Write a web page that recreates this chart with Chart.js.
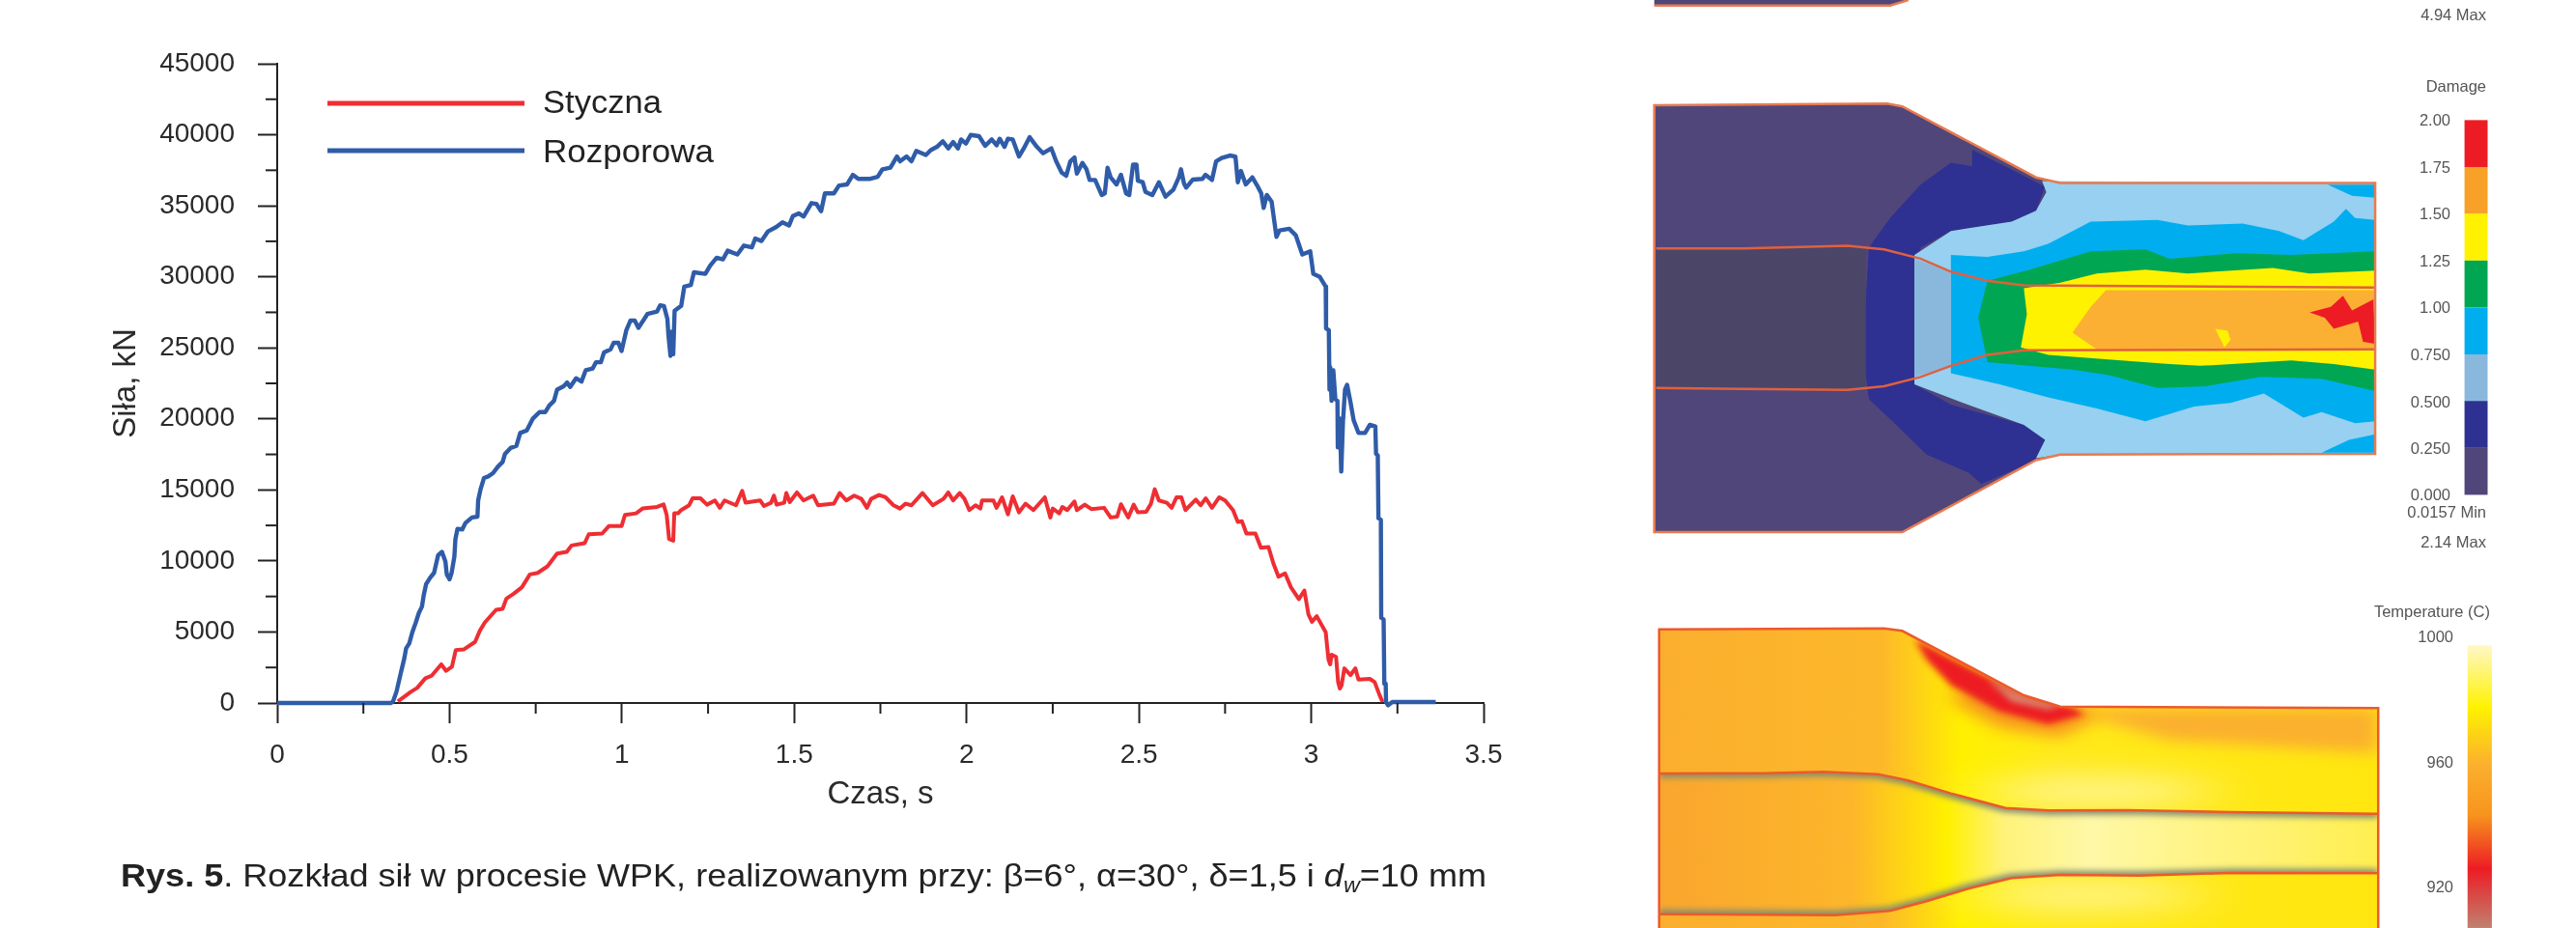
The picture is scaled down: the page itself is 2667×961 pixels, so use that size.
<!DOCTYPE html>
<html lang="pl">
<head>
<meta charset="utf-8">
<title>Rozkład sił w procesie WPK</title>
<script src="https://cdn.jsdelivr.net/npm/chart.js@4"></script>
<style>
  html, body { margin: 0; padding: 0; background: #fff; overflow: hidden; }
  #page { position: relative; width: 2667px; height: 961px; }
  #forceChart { position: absolute; left: 0; top: 0; }
  #overlay { position: absolute; left: 0; top: 0; }
  #overlay text { font-family: "Liberation Sans", Arial, sans-serif; }
  .bar-label { font-size: 16.5px; fill: #555; text-anchor: end; }
  .contour { vector-effect: non-scaling-stroke; }
</style>
</head>
<body>
<div id="page">
  <canvas id="forceChart" width="1600" height="847"></canvas>

  <svg id="overlay" width="2667" height="961" viewBox="0 0 2667 961">
    <defs>
      <filter id="blur6" x="-30%" y="-30%" width="160%" height="160%"><feGaussianBlur stdDeviation="6 10"/></filter>
      <filter id="blur14" x="-40%" y="-40%" width="180%" height="180%"><feGaussianBlur stdDeviation="16 22"/></filter>
      <filter id="blur30" x="-80%" y="-120%" width="260%" height="340%"><feGaussianBlur stdDeviation="55 45"/></filter>
      <linearGradient id="tempBase" gradientUnits="userSpaceOnUse" x1="60" y1="0" x2="1243" y2="0">
        <stop offset="0" stop-color="#fbae2e"/>
        <stop offset="0.31" stop-color="#fdb82a"/>
        <stop offset="0.42" stop-color="#fff000"/>
        <stop offset="0.55" stop-color="#ffe91a"/>
        <stop offset="1" stop-color="#ffe60f"/>
      </linearGradient>
      <linearGradient id="tempTube" gradientUnits="userSpaceOnUse" x1="60" y1="0" x2="1243" y2="0">
        <stop offset="0" stop-color="#f9a62e"/>
        <stop offset="0.27" stop-color="#fdb62a"/>
        <stop offset="0.40" stop-color="#fff000"/>
        <stop offset="0.48" stop-color="#fff27a"/>
        <stop offset="0.60" stop-color="#fff8a6"/>
        <stop offset="1" stop-color="#ffee50"/>
      </linearGradient>
      <linearGradient id="tempBar" x1="0" y1="0" x2="0" y2="1">
        <stop offset="0" stop-color="#fff7c8"/>
        <stop offset="0.22" stop-color="#fff200"/>
        <stop offset="0.42" stop-color="#fbb02e"/>
        <stop offset="0.60" stop-color="#f7941d"/>
        <stop offset="0.79" stop-color="#ed1c24"/>
        <stop offset="1" stop-color="#c08070"/>
      </linearGradient>
      <clipPath id="tempClip">
        <polygon points="60,185 430,182 460,190 660,390 720,425 1243,430 1243,1113 60,1113"/>
      </clipPath>
      <clipPath id="tubeClip">
        <polygon points="60,633 230,632 330,628 420,635 470,655 540,695 630,740 700,748 830,747 1000,753 1243,758 1243,943 1000,942 850,950 720,948 640,958 570,990 500,1030 440,1060 350,1073 60,1070"/>
      </clipPath>
    </defs>

    <!-- legenda -->
    <line x1="339" y1="107" x2="543" y2="107" stroke="#ee2e33" stroke-width="5"/>
    <line x1="339" y1="156" x2="543" y2="156" stroke="#2f5ca8" stroke-width="5"/>
    <text x="562" y="117" font-size="34" fill="#222" textLength="123" lengthAdjust="spacingAndGlyphs">Styczna</text>
    <text x="562" y="168" font-size="34" fill="#222" textLength="177" lengthAdjust="spacingAndGlyphs">Rozporowa</text>

    <!-- podpis -->
    <text x="125" y="918" font-size="34" fill="#222" textLength="1414" lengthAdjust="spacingAndGlyphs"><tspan font-weight="bold">Rys. 5</tspan>. Rozkład sił w procesie WPK, realizowanym przy: β=6°, α=30°, δ=1,5 i <tspan font-style="italic">d</tspan><tspan font-style="italic" font-size="22" dy="6">w</tspan><tspan dy="-6">=10 mm</tspan></text>

    <!-- panel damage -->
    <g transform="translate(1680,0) scale(0.6293,0.3827)">
      <polygon points="52,0 470,0 440,15 52,15" fill="#50467a"/>
      <polyline points="52,15 440,15 470,0" fill="none" stroke="#e87a50" stroke-width="2.5" class="contour"/>
      <polygon points="52,285 435,280 460,288 680,480 720,495 1238,495 1238,1228 720,1230 680,1245 460,1440 52,1440" fill="#50467a"/>
      <polygon points="575,405 695,505 680,570 640,600 540,625 490,670 480,1040 540,1095 660,1150 695,1190 680,1245 590,1310 570,1280 500,1230 450,1150 405,1080 395,950 405,670 440,590 490,500 540,440 575,450" fill="#2e3191"/>
      <polygon points="690,490 1238,495 1238,1228 720,1230 680,1240 695,1190 660,1150 560,1090 480,1040 480,690 540,625 640,600 680,570 697,520" fill="#97d0f0"/>
      <polygon points="540,690 600,695 660,680 700,660 770,600 880,595 930,610 1020,605 1080,625 1120,650 1170,600 1190,565 1205,590 1238,595 1238,1140 1205,1145 1150,1115 1120,1130 1055,1065 1000,1090 940,1100 860,1140 780,1105 700,1075 620,1040 540,1010" fill="#00aeef"/>
      <polygon points="1160,500 1238,500 1238,535 1200,530" fill="#00aeef"/>
      <polygon points="1150,1225 1195,1190 1238,1175 1238,1225" fill="#00aeef"/>
      <polygon points="480,700 540,735 540,990 480,1020" fill="#8ab8dd"/>
      <polygon points="600,760 670,730 770,680 860,675 900,700 1010,685 1100,690 1238,680 1238,1058 1150,1025 1050,1020 960,1045 880,1050 800,1015 740,1000 600,980 585,860" fill="#00a651"/>
      <polygon points="660,780 720,765 780,740 860,730 930,740 1070,725 1130,740 1238,732 1238,1000 1170,985 1100,975 950,990 900,985 820,975 700,960 655,940 665,850" fill="#fff200"/>
      <polygon points="795,785 1238,785 1238,945 780,945 740,900 770,830" fill="#fbb034"/>
      <polygon points="975,890 995,895 1000,920 990,940" fill="#fff200"/>
      <polygon points="1130,845 1165,830 1185,800 1200,840 1235,810 1238,930 1218,925 1210,870 1170,890 1155,860" fill="#ed1c24"/>
      <polygon points="55,672 200,672 370,665 400,668 400,1052 370,1055 55,1050" fill="#4b4668"/>
      <polyline points="55,672 200,672 370,665 430,675 490,700 540,735 600,760 660,772 1238,778" fill="none" stroke="#e0603f" stroke-width="2.5" class="contour"/>
      <polyline points="55,1050 370,1055 430,1045 490,1020 540,990 600,960 660,948 1238,945" fill="none" stroke="#e0603f" stroke-width="2.5" class="contour"/>
      <polygon points="52,285 435,280 460,288 680,480 720,495 1238,495 1238,1228 720,1230 680,1245 460,1440 52,1440" fill="none" stroke="#e87a50" stroke-width="2.5" class="contour"/>
      <rect x="1385" y="325" width="38" height="127" fill="#ed1c24"/>
      <rect x="1385" y="452" width="38" height="127" fill="#f7a128"/>
      <rect x="1385" y="578" width="38" height="127" fill="#fff200"/>
      <rect x="1385" y="705" width="38" height="127" fill="#00a651"/>
      <rect x="1385" y="832" width="38" height="127" fill="#00aeef"/>
      <rect x="1385" y="959" width="38" height="127" fill="#8ab8dd"/>
      <rect x="1385" y="1085" width="38" height="127" fill="#2e3191"/>
      <rect x="1385" y="1212" width="38" height="127" fill="#50467a"/>
    </g>
    <text class="bar-label" x="2574" y="21">4.94 Max</text>
    <text class="bar-label" x="2574" y="95">Damage</text>
    <text class="bar-label" x="2537" y="130">2.00</text>
    <text class="bar-label" x="2537" y="179">1.75</text>
    <text class="bar-label" x="2537" y="227">1.50</text>
    <text class="bar-label" x="2537" y="276">1.25</text>
    <text class="bar-label" x="2537" y="324">1.00</text>
    <text class="bar-label" x="2537" y="373">0.750</text>
    <text class="bar-label" x="2537" y="422">0.500</text>
    <text class="bar-label" x="2537" y="470">0.250</text>
    <text class="bar-label" x="2537" y="518">0.000</text>
    <text class="bar-label" x="2574" y="536">0.0157  Min</text>
    <text class="bar-label" x="2574" y="567">2.14  Max</text>

    <!-- panel temperatura -->
    <g transform="translate(1680,590) scale(0.6293,0.3333)">
      <g clip-path="url(#tempClip)">
        <rect x="60" y="180" width="1183" height="940" fill="url(#tempBase)"/>
        <polygon points="720,430 1243,430 1243,570 900,530" fill="#fbb02e" filter="url(#blur14)"/>
        <ellipse cx="780" cy="690" rx="190" ry="50" fill="#fff8a6" opacity="0.85" filter="url(#blur30)"/>
        <ellipse cx="760" cy="1010" rx="190" ry="45" fill="#fff8a6" opacity="0.85" filter="url(#blur30)"/>
        <polygon points="540,360 660,400 760,430 780,460 720,520 620,490 550,420" fill="#f7941d" filter="url(#blur14)"/>
        <polygon points="480,215 660,390 740,430 760,450 700,480 620,440 540,360 500,280" fill="#ed1c24" filter="url(#blur6)"/>
        <polygon points="600,340 660,390 720,425 700,435 640,410" fill="#d9826a" filter="url(#blur6)"/>
      </g>
      <polygon points="60,633 230,632 330,628 420,635 470,655 540,695 630,740 700,748 830,747 1000,753 1243,758 1243,943 1000,942 850,950 720,948 640,958 570,990 500,1030 440,1060 350,1073 60,1070" fill="url(#tempTube)"/>
      <g clip-path="url(#tubeClip)">
        <polyline points="60,633 230,632 330,628 420,635 470,655 540,695 630,740 700,748 830,747 1000,753 1243,758" fill="none" stroke="#7f8a70" stroke-width="26" filter="url(#blur6)"/>
        <polyline points="60,1070 350,1073 440,1060 500,1030 570,990 640,958 720,948 850,950 1000,942 1243,943" fill="none" stroke="#7f8a70" stroke-width="26" filter="url(#blur6)"/>
      </g>
      <polyline points="60,633 230,632 330,628 420,635 470,655 540,695 630,740 700,748 830,747 1000,753 1243,758" fill="none" stroke="#ec5a2b" stroke-width="2.5" class="contour"/>
      <polyline points="60,1070 350,1073 440,1060 500,1030 570,990 640,958 720,948 850,950 1000,942 1243,943" fill="none" stroke="#ec5a2b" stroke-width="2.5" class="contour"/>
      <polyline points="60,1113 60,185 430,182 460,190 660,390 720,425 1243,430 1243,1113" fill="none" stroke="#ec5a2b" stroke-width="2.5" class="contour"/>
      <rect x="1390" y="235" width="40" height="878" fill="url(#tempBar)"/>
    </g>
    <text class="bar-label" x="2578" y="639">Temperature (C)</text>
    <text class="bar-label" x="2540" y="665">1000</text>
    <text class="bar-label" x="2540" y="795">960</text>
    <text class="bar-label" x="2540" y="924">920</text>
  </svg>
</div>

<script>
// czas [s], siła [kN]
const xTickValues = [0, 0.5, 1, 1.5, 2, 2.5, 3, 3.5];
const xMinorTicks = [0.25, 0.75, 1.25, 1.75, 2.25, 2.75, 3.25];
const yTickValues = [0, 5000, 10000, 15000, 20000, 25000, 30000, 35000, 40000, 45000];
const yMinorTicks = [2500, 7500, 12500, 17500, 22500, 27500, 32500, 37500, 42500];

const stycznaTime = [
  0.35, 0.369, 0.388, 0.406, 0.43, 0.448, 0.476, 0.49, 0.507, 0.518, 0.542, 0.574, 0.588, 0.602, 0.635, 0.654,
  0.665, 0.686, 0.71, 0.733, 0.756, 0.784, 0.812, 0.84, 0.854, 0.892, 0.904, 0.943, 0.962, 0.999, 1.009, 1.041,
  1.06, 1.102, 1.121, 1.13, 1.137, 1.149, 1.152, 1.163, 1.172, 1.195, 1.205, 1.228, 1.247, 1.27, 1.284, 1.298,
  1.331, 1.349, 1.359, 1.401, 1.412, 1.433, 1.441, 1.449, 1.471, 1.477, 1.487, 1.508, 1.527, 1.555, 1.569, 1.615,
  1.632, 1.651, 1.674, 1.695, 1.711, 1.723, 1.746, 1.765, 1.788, 1.807, 1.823, 1.84, 1.872, 1.902, 1.933, 1.947,
  1.961, 1.98, 1.994, 2.008, 2.026, 2.04, 2.045, 2.078, 2.087, 2.103, 2.12, 2.134, 2.152, 2.171, 2.194, 2.227,
  2.243, 2.25, 2.269, 2.278, 2.292, 2.313, 2.32, 2.343, 2.362, 2.399, 2.418, 2.437, 2.448, 2.469, 2.485, 2.497,
  2.521, 2.535, 2.546, 2.558, 2.581, 2.595, 2.609, 2.623, 2.635, 2.665, 2.679, 2.694, 2.712, 2.733, 2.75, 2.773,
  2.787, 2.799, 2.812, 2.838, 2.854, 2.876, 2.89, 2.905, 2.924, 2.941, 2.964, 2.98, 2.992, 3.002, 3.016, 3.042,
  3.05, 3.055, 3.059, 3.072, 3.078, 3.083, 3.088, 3.096, 3.114, 3.128, 3.137, 3.17, 3.184, 3.198, 3.207
];
const stycznaForce = [
  110, 450, 790, 1060, 1740, 1920, 2720, 2260, 2560, 3730, 3780, 4300, 5090, 5660, 6560, 6630,
  7350, 7690, 8150, 9050, 9160, 9620, 10520, 10640, 11090, 11250, 11880, 11930, 12450, 12450, 13240, 13350,
  13690, 13800, 13980, 13240, 11540, 11430, 13350, 13350, 13580, 13920, 14410, 14410, 13960, 14260, 13740, 14260,
  13920, 14940, 14100, 14260, 13870, 14100, 14600, 13960, 14100, 14780, 14140, 14820, 14260, 14600, 13920, 14030,
  14780, 14260, 14600, 14370, 13740, 14370, 14640, 14480, 13920, 13690, 14030, 13920, 14780, 13920, 14370, 14820,
  14260, 14780, 14370, 13580, 13920, 13690, 14260, 14260, 13740, 14480, 13280, 14550, 13420, 14030, 13580, 14480,
  13060, 13690, 13350, 13800, 13580, 14190, 13580, 13960, 13650, 13740, 13060, 13120, 13990, 13060, 13960, 13420,
  13460, 14030, 15050, 14260, 14100, 13740, 14480, 14480, 13580, 14320, 13920, 14410, 13740, 14480, 14260, 13580,
  12740, 12790, 11930, 11930, 10930, 10980, 9840, 8890, 9120, 8150, 7310, 7920, 6220, 5720, 6110, 4980,
  3050, 2720, 3400, 3240, 1470, 1020, 1240, 2440, 1970, 2440, 1650, 1700, 1470, 570, 70
];

const rozporowaTime = [
  0, 0.33, 0.336, 0.346, 0.36, 0.369, 0.374, 0.383, 0.392, 0.402, 0.411, 0.42, 0.425, 0.432, 0.444, 0.455,
  0.467, 0.478, 0.488, 0.492, 0.5, 0.506, 0.514, 0.517, 0.523, 0.537, 0.546, 0.565, 0.581, 0.583, 0.59, 0.6,
  0.612, 0.626, 0.64, 0.654, 0.661, 0.677, 0.694, 0.705, 0.724, 0.742, 0.761, 0.778, 0.789, 0.803, 0.812, 0.831,
  0.841, 0.85, 0.867, 0.883, 0.895, 0.915, 0.925, 0.939, 0.948, 0.967, 0.976, 0.99, 0.999, 1.013, 1.025, 1.037,
  1.048, 1.065, 1.074, 1.102, 1.111, 1.122, 1.132, 1.135, 1.141, 1.145, 1.149, 1.153, 1.172, 1.181, 1.2, 1.209,
  1.242, 1.256, 1.275, 1.293, 1.307, 1.335, 1.354, 1.377, 1.387, 1.405, 1.424, 1.447, 1.466, 1.485, 1.496, 1.513,
  1.527, 1.55, 1.564, 1.578, 1.589, 1.615, 1.63, 1.653, 1.67, 1.686, 1.718, 1.742, 1.756, 1.779, 1.798, 1.807,
  1.826, 1.84, 1.854, 1.882, 1.896, 1.914, 1.931, 1.947, 1.961, 1.975, 1.984, 1.998, 2.012, 2.036, 2.054, 2.073,
  2.087, 2.096, 2.11, 2.12, 2.134, 2.152, 2.166, 2.183, 2.204, 2.222, 2.246, 2.26, 2.276, 2.289, 2.301, 2.313,
  2.32, 2.336, 2.348, 2.357, 2.373, 2.392, 2.401, 2.409, 2.418, 2.435, 2.448, 2.463, 2.472, 2.483, 2.493, 2.497,
  2.511, 2.519, 2.539, 2.558, 2.577, 2.6, 2.616, 2.622, 2.631, 2.637, 2.656, 2.684, 2.693, 2.712, 2.724, 2.74,
  2.764, 2.78, 2.787, 2.796, 2.81, 2.829, 2.843, 2.855, 2.862, 2.871, 2.885, 2.892, 2.899, 2.908, 2.936, 2.955,
  2.974, 2.997, 3.006, 3.025, 3.042, 3.043, 3.051, 3.053, 3.055, 3.059, 3.064, 3.07, 3.076, 3.077, 3.083, 3.087,
  3.092, 3.098, 3.104, 3.114, 3.123, 3.137, 3.156, 3.17, 3.186, 3.188, 3.193, 3.195, 3.202, 3.203, 3.21, 3.212,
  3.216, 3.217, 3.223, 3.235, 3.361
];
const rozporowaForce = [
  0, 0, 110, 790, 2260, 3170, 3850, 4190, 4980, 5660, 6340, 6790, 7580, 8370, 8830, 9160,
  10410, 10640, 9960, 9050, 8710, 9160, 10300, 11540, 12260, 12220, 12670, 13060, 13120, 14260, 15050, 15840,
  15950, 16180, 16630, 16970, 17540, 17950, 18100, 19010, 19190, 20030, 20480, 20480, 20930, 21270, 22060, 22290,
  22560, 22250, 22860, 22630, 23420, 23540, 23990, 23990, 24670, 24890, 25350, 25350, 24780, 26250, 26930, 26930,
  26410, 27040, 27380, 27560, 27990, 27950, 27040, 25910, 24440, 26140, 24550, 27610, 27950, 29310, 29420, 30320,
  30210, 30780, 31340, 31230, 31840, 31570, 32200, 32070, 32700, 32520, 33200, 33490, 33830, 33610, 34280, 34470,
  34240, 35190, 35140, 34620, 35870, 35870, 36430, 36500, 37180, 36890, 36890, 37040, 37570, 37680, 38470, 38130,
  38470, 38130, 38860, 38580, 38920, 39150, 39540, 39040, 39490, 39040, 39670, 39380, 39990, 39900, 39220, 39670,
  39260, 39720, 39150, 39720, 39670, 38470, 39040, 39830, 39150, 38700, 39040, 38130, 37340, 37110, 38130, 38400,
  37270, 38020, 37570, 36820, 36820, 35760, 35870, 37680, 37000, 36500, 37180, 35870, 35760, 37900, 37900, 36770,
  36660, 35980, 35760, 36660, 35640, 36140, 37000, 37570, 36550, 36280, 36840, 36890, 37180, 36820, 38130, 38360,
  38540, 38470, 36660, 37450, 36500, 37000, 36430, 35870, 34850, 35760, 35300, 34060, 32810, 33270, 33380, 32930,
  31570, 31800, 30210, 29990, 29310, 26370, 26250, 22060, 23650, 21270, 23420, 21390, 21270, 17990, 20030, 16290,
  19800, 22060, 22400, 21160, 19910, 19010, 19010, 19580, 19460, 17540, 17430, 13010, 12900, 6000, 5880, 1360,
  1360, 70, -160, 70, 70
];

const textColor = "#2a2a2a";
const axisColor = "#222222";

const minorTicksPlugin = {
  id: "minorTicks",
  afterDatasetsDraw(chart) {
    const { ctx, scales } = chart;
    ctx.save();
    ctx.strokeStyle = axisColor;
    ctx.lineWidth = 2;
    xMinorTicks.forEach((v) => {
      const px = scales.x.getPixelForValue(v);
      ctx.beginPath();
      ctx.moveTo(px, scales.y.bottom);
      ctx.lineTo(px, scales.y.bottom + 11);
      ctx.stroke();
    });
    yMinorTicks.forEach((v) => {
      const py = scales.y.getPixelForValue(v);
      ctx.beginPath();
      ctx.moveTo(scales.x.left - 12, py);
      ctx.lineTo(scales.x.left, py);
      ctx.stroke();
    });
    ctx.restore();
  },
};

new Chart(document.getElementById("forceChart"), {
  type: "line",
  data: {
    datasets: [
      {
        label: "Styczna",
        data: stycznaTime.map((t, i) => ({ x: t, y: stycznaForce[i] })),
        borderColor: "#ee2e33",
        borderWidth: 4,
        order: 2,
      },
      {
        label: "Rozporowa",
        data: rozporowaTime.map((t, i) => ({ x: t, y: rozporowaForce[i] })),
        borderColor: "#2f5ca8",
        borderWidth: 4.4,
        order: 1,
      },
    ],
  },
  plugins: [minorTicksPlugin],
  options: {
    responsive: false,
    animation: false,
    layout: { padding: { top: 66, right: 64, left: 0, bottom: 0 } },
    elements: {
      point: { radius: 0 },
      line: { tension: 0, borderJoinStyle: "round", fill: false },
    },
    datasets: { line: { clip: false } },
    plugins: { legend: { display: false }, tooltip: { enabled: false } },
    scales: {
      x: {
        type: "linear",
        min: 0,
        max: 3.5,
        afterBuildTicks: (scale) => {
          scale.ticks = xTickValues.map((value) => ({ value }));
        },
        afterFit: (scale) => {
          scale.height = 119;
        },
        border: { color: axisColor, width: 2 },
        grid: {
          drawOnChartArea: false,
          tickLength: 21,
          tickColor: axisColor,
          tickWidth: 2,
        },
        ticks: {
          color: textColor,
          padding: 16,
          maxRotation: 0,
          font: { family: "Liberation Sans", size: 28 },
          callback: (value) => String(value),
        },
        title: {
          display: true,
          text: "Czas, s",
          color: textColor,
          font: { family: "Liberation Sans", size: 33 },
        },
      },
      y: {
        min: 0,
        max: 45000,
        afterBuildTicks: (scale) => {
          scale.ticks = yTickValues.map((value) => ({ value }));
        },
        afterFit: (scale) => {
          scale.width = 287;
        },
        border: { color: axisColor, width: 2 },
        grid: {
          drawOnChartArea: false,
          tickLength: 20,
          tickColor: axisColor,
          tickWidth: 2,
        },
        ticks: {
          color: textColor,
          padding: 24,
          font: { family: "Liberation Sans", size: 28 },
          callback: (value) => String(value),
        },
        title: {
          display: true,
          text: "Siła, kN",
          color: textColor,
          padding: { top: 111, bottom: 0 },
          font: { family: "Liberation Sans", size: 33 },
        },
      },
    },
  },
});
</script>
</body>
</html>
